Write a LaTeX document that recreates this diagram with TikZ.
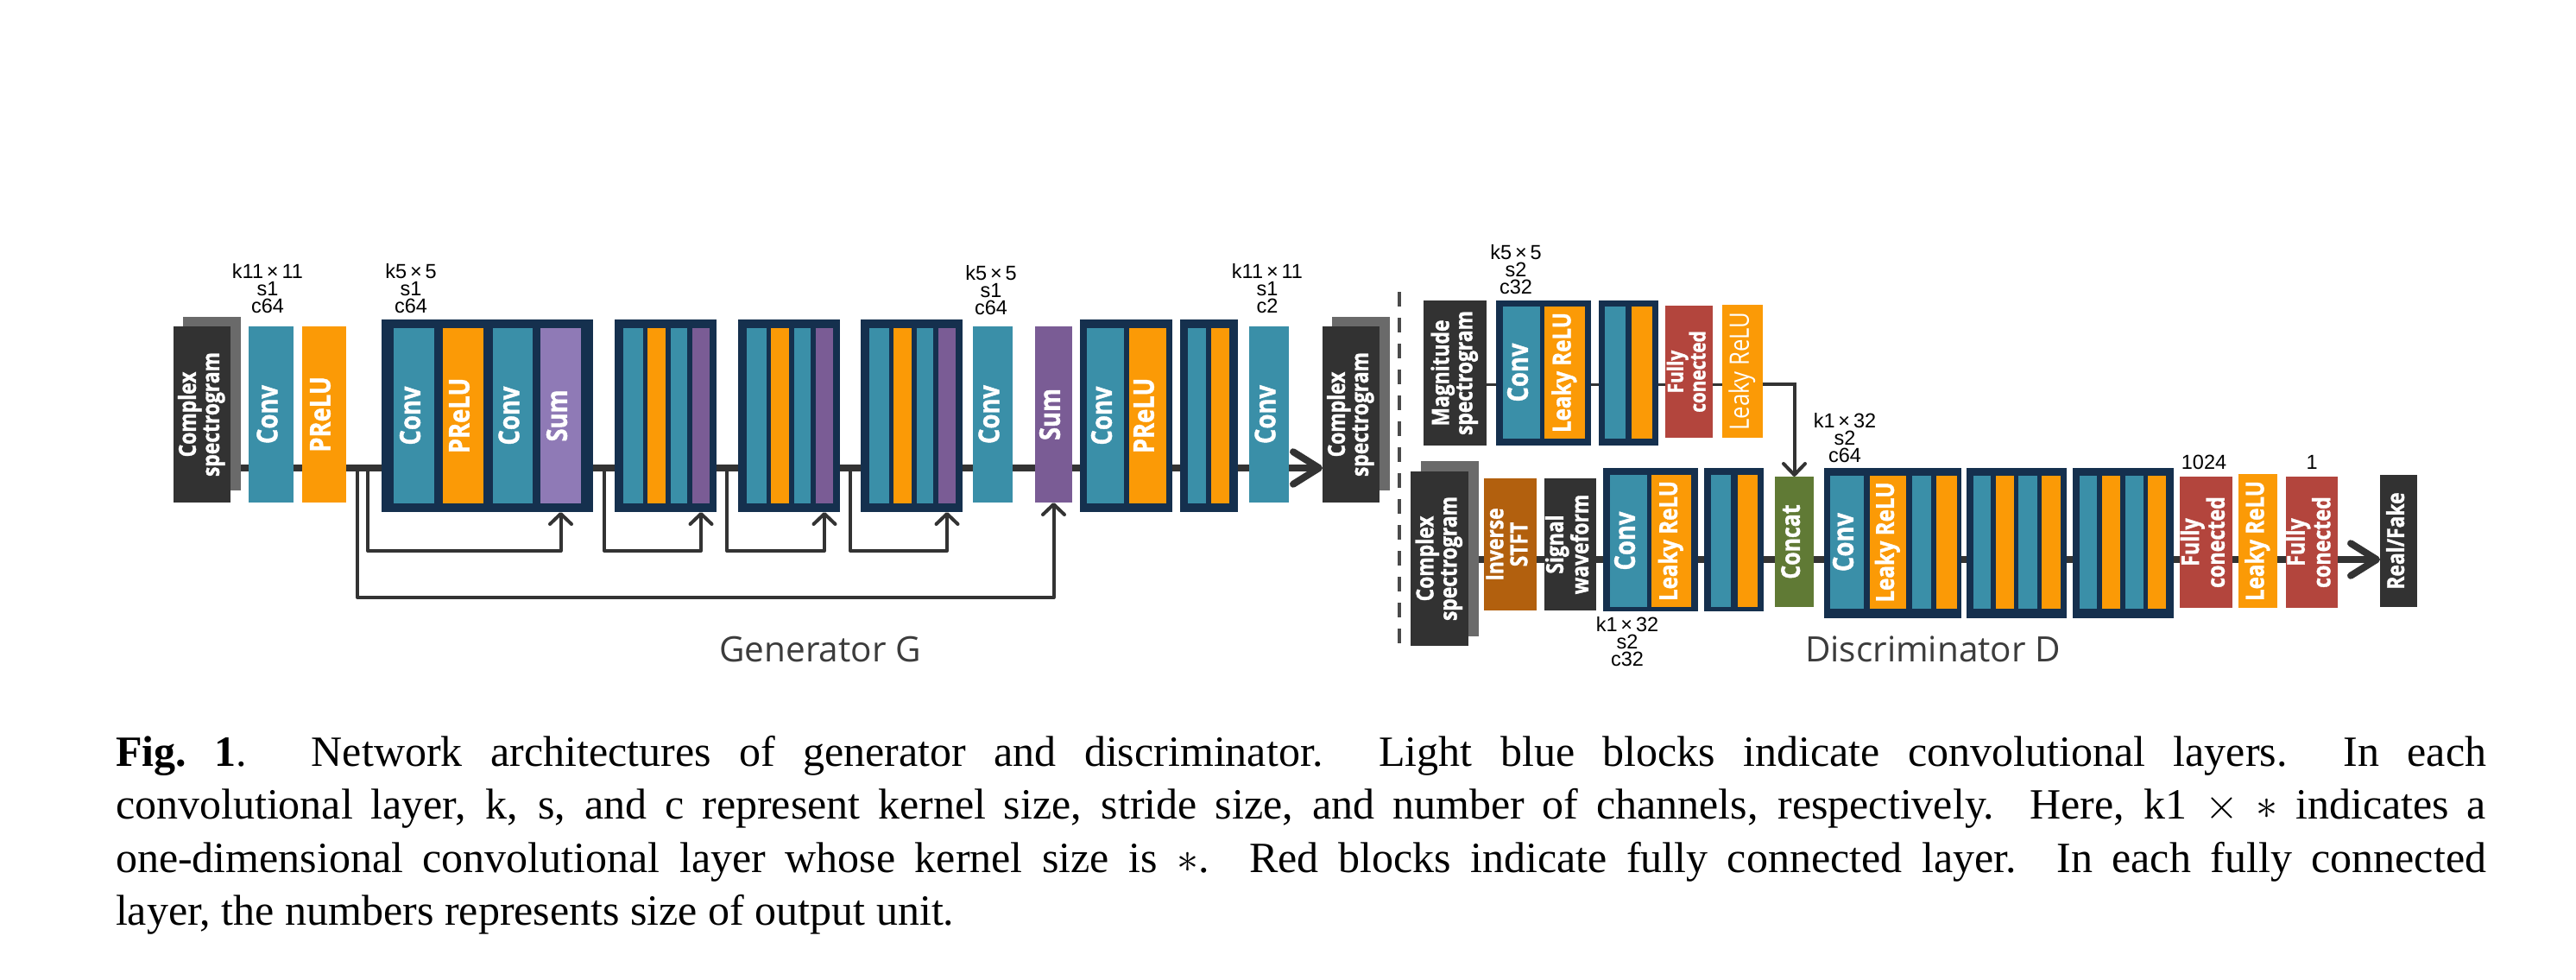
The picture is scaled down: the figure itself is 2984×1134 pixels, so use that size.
\documentclass[tikz,border=0pt]{standalone}
\usepackage{graphicx}
\usepackage{fontspec}
\setmainfont{Liberation Serif}
\newfontfamily\boxfnt[FakeStretch=0.83, BoldFeatures={FakeBold=1.2}]{Open Sans}
\newfontfamily\annfnt{Liberation Sans}
\newfontfamily\ttlfnt{Open Sans}
\usetikzlibrary{arrows.meta,backgrounds}
\definecolor{cNavy}{HTML}{15304E}
\definecolor{cTeal}{HTML}{3A8FA8}
\definecolor{cOrange}{HTML}{FB9A06}
\definecolor{cPurple}{HTML}{7A5C95}
\definecolor{cPurpleL}{HTML}{8F7AB6}
\definecolor{cDark}{HTML}{323232}
\definecolor{cShadow}{HTML}{6A6A6A}
\definecolor{cRed}{HTML}{B3453D}
\definecolor{cBrown}{HTML}{B2600E}
\definecolor{cGreen}{HTML}{607A35}
\definecolor{cLine}{HTML}{333333}
\definecolor{cDash}{HTML}{4A4A4A}
\definecolor{cTitle}{HTML}{3C3C3C}
\newcommand\vt[1]{\rotatebox{90}{\begin{tabular}{@{}c@{}}#1\end{tabular}}}
\newcommand\mkbox[7]{%
  \pgfmathsetmacro\bxw{(#3-#2)*0.2}%
  \pgfmathsetmacro\bxh{(#5-#4)*0.2}%
  \node[#6, minimum width=\bxw pt, minimum height=\bxh pt] (#1) at ({(#2+#3)/2},{(#4+#5)/2}) {#7};}
\tikzset{
  base/.style={rectangle, inner sep=0pt, outer sep=0pt, text=white, font=\boxfnt\bfseries\fontsize{6.6}{6.2}\selectfont},
  blk/.style={base, fill=cNavy},
  tl/.style={base, fill=cTeal},
  og/.style={base, fill=cOrange},
  pu/.style={base, fill=cPurple},
  pl/.style={base, fill=cPurpleL},
  dk/.style={base, fill=cDark},
  sh/.style={base, fill=cShadow},
  rd/.style={base, fill=cRed},
  br/.style={base, fill=cBrown},
  gr/.style={base, fill=cGreen},
  small/.style={font=\boxfnt\bfseries\fontsize{5.5}{5.4}\selectfont},
  fcs/.style={font=\boxfnt\bfseries\fontsize{5.6}{5.6}\selectfont},
  tiny/.style={font=\boxfnt\bfseries\fontsize{5}{4.5}\selectfont},
  big/.style={font=\boxfnt\bfseries\fontsize{6.6}{6.2}\selectfont},
  catf/.style={font=\boxfnt\bfseries\fontsize{6}{6}\selectfont},
  lr/.style={font=\boxfnt\bfseries\fontsize{5.8}{5.5}\selectfont},
  lrreg/.style={font=\boxfnt\fontsize{6.2}{6}\selectfont},
  ann/.style={font=\annfnt\fontsize{4.7}{4}\selectfont, align=center, inner sep=0pt, text=black},
  ttl/.style={font=\ttlfnt\fontsize{8.1}{9}\selectfont, text=cTitle, inner sep=0pt},
  gline/.style={draw=cLine, line width=1.6pt},
  bigtip/.style={-{Straight Barb[length=6pt,width=7.5pt,round]}},
  skip/.style={draw=cLine, line width=0.8pt, line join=round, -{Straight Barb[length=2.4pt,width=5pt,round]}},
  uline/.style={draw=cLine, line width=0.6pt},
  uarrow/.style={draw=cLine, line width=0.8pt, -{Straight Barb[length=2.6pt,width=5pt,round]}},
  sep/.style={draw=cDash, line width=0.8pt, dash pattern=on 3.4pt off 2.6pt}
}
\pgfdeclarelayer{background}
\pgfsetlayers{background,main}
\begin{document}
\begin{tikzpicture}[x=0.2pt,y=-0.2pt]
\useasboundingbox (0,0) rectangle (2984,1134);
% ---------------- Generator ----------------
\mkbox{csinsh}{212}{279}{367}{568}{sh}{}
\mkbox{csin}{201}{267}{378}{582}{dk,small}{\vt{Complex\\spectrogram}}
\mkbox{gc1}{288}{340}{378}{582}{tl}{\vt{Conv}}
\mkbox{gp1}{350}{401}{378}{582}{og}{\vt{PReLU}}
\mkbox{b1}{442}{687}{370}{593}{blk}{}
\mkbox{b1c1}{456}{503}{380}{583}{tl}{\vt{Conv}}
\mkbox{b1p}{513}{560}{380}{583}{og}{\vt{PReLU}}
\mkbox{b1c2}{571}{617}{380}{583}{tl}{\vt{Conv}}
\mkbox{b1s}{626}{673}{380}{583}{pl}{\vt{Sum}}
\mkbox{b2}{712}{830}{370}{593}{blk}{}
\mkbox{b2t1}{722}{745}{380}{583}{tl}{}
\mkbox{b2o}{750}{771}{380}{583}{og}{}
\mkbox{b2t2}{777}{796}{380}{583}{tl}{}
\mkbox{b2s}{802}{822}{380}{583}{pu}{}
\mkbox{b3}{855}{973}{370}{593}{blk}{}
\mkbox{b3t1}{865}{888}{380}{583}{tl}{}
\mkbox{b3o}{893}{914}{380}{583}{og}{}
\mkbox{b3t2}{920}{939}{380}{583}{tl}{}
\mkbox{b3s}{945}{965}{380}{583}{pu}{}
\mkbox{b4}{997}{1115}{370}{593}{blk}{}
\mkbox{b4t1}{1007}{1030}{380}{583}{tl}{}
\mkbox{b4o}{1035}{1056}{380}{583}{og}{}
\mkbox{b4t2}{1062}{1081}{380}{583}{tl}{}
\mkbox{b4s}{1087}{1107}{380}{583}{pu}{}
\mkbox{gc2}{1127}{1173}{378}{582}{tl}{\vt{Conv}}
\mkbox{gsum}{1199}{1242}{378}{582}{pu}{\vt{Sum}}
\mkbox{b5}{1251}{1358}{370}{593}{blk}{}
\mkbox{b5c}{1259}{1302}{380}{583}{tl}{\vt{Conv}}
\mkbox{b5p}{1308}{1351}{380}{583}{og}{\vt{PReLU}}
\mkbox{b6}{1367}{1434}{370}{593}{blk}{}
\mkbox{b6t}{1376}{1397}{380}{583}{tl}{}
\mkbox{b6o}{1403}{1424}{380}{583}{og}{}
\mkbox{gc3}{1447}{1493}{378}{582}{tl}{\vt{Conv}}
\mkbox{csoutsh}{1543}{1610}{367}{568}{sh}{}
\mkbox{csout}{1532}{1598}{378}{582}{dk,small}{\vt{Complex\\spectrogram}}
\node[ann] (lg1) at (310,334) {k11\,×\,11\\s1\\c64};
\node[ann] (lg2) at (476,334) {k5\,×\,5\\s1\\c64};
\node[ann] (lg3) at (1148,336) {k5\,×\,5\\s1\\c64};
\node[ann] (lg4) at (1468,334) {k11\,×\,11\\s1\\c2};
\node[ttl] (gtitle) at (950,752) {Generator G};
\coordinate (gy) at (0,542);
\coordinate (s0) at (414,542);
\coordinate (s1) at (426,542);
\coordinate (s2) at (700,542);
\coordinate (s3) at (842,542);
\coordinate (s4) at (985,542);
% ---------------- Discriminator ----------------
\mkbox{mag}{1649}{1722}{348}{516}{dk,small}{\vt{Magnitude\\spectrogram}}
\mkbox{ua}{1733}{1843}{348}{516}{blk}{}
\mkbox{uac}{1741}{1784}{355}{508}{tl,big}{\vt{Conv}}
\mkbox{uar}{1789}{1836}{355}{508}{og,lr}{\vt{Leaky ReLU}}
\mkbox{ub}{1852}{1921}{348}{516}{blk}{}
\mkbox{ubt}{1859}{1883}{355}{508}{tl}{}
\mkbox{ubo}{1890}{1914}{355}{508}{og}{}
\mkbox{ufc}{1929}{1984}{354}{507}{rd,tiny}{\vt{Fully\\conected}}
\mkbox{ulr}{1995}{2042}{353}{507}{og,lrreg}{\vt{Leaky ReLU}}
\mkbox{csdsh}{1646}{1713}{534}{737}{sh}{}
\mkbox{csd}{1634}{1701}{546}{748}{dk,small}{\vt{Complex\\spectrogram}}
\mkbox{istft}{1719}{1780}{554}{707}{br,small}{\vt{Inverse\\STFT}}
\mkbox{sig}{1789}{1849}{554}{707}{dk,small}{\vt{Signal\\waveform}}
\mkbox{la}{1857}{1967}{542}{708}{blk}{}
\mkbox{lac}{1865}{1908}{550}{703}{tl,big}{\vt{Conv}}
\mkbox{lar}{1913}{1959}{550}{703}{og,lr}{\vt{Leaky ReLU}}
\mkbox{lb}{1974}{2043}{542}{708}{blk}{}
\mkbox{lbt}{1982}{2005}{550}{703}{tl}{}
\mkbox{lbo}{2013}{2036}{550}{703}{og}{}
\mkbox{cat}{2056}{2101}{552}{703}{gr,catf}{\vt{Concat}}
\mkbox{ca}{2113}{2272}{542}{716}{blk}{}
\mkbox{cac}{2120}{2159}{551}{705}{tl,big}{\vt{Conv}}
\mkbox{car}{2166}{2208}{551}{705}{og,lr}{\vt{Leaky ReLU}}
\mkbox{cat2}{2215}{2237}{551}{705}{tl}{}
\mkbox{cao}{2243}{2267}{551}{705}{og}{}
\mkbox{cb}{2278}{2394}{542}{716}{blk}{}
\mkbox{cbt1}{2286}{2306}{551}{705}{tl}{}
\mkbox{cbo1}{2312}{2333}{551}{705}{og}{}
\mkbox{cbt2}{2338}{2360}{551}{705}{tl}{}
\mkbox{cbo2}{2365}{2387}{551}{705}{og}{}
\mkbox{cc}{2401}{2518}{542}{716}{blk}{}
\mkbox{cct1}{2409}{2429}{551}{705}{tl}{}
\mkbox{cco1}{2435}{2456}{551}{705}{og}{}
\mkbox{cct2}{2462}{2483}{551}{705}{tl}{}
\mkbox{cco2}{2488}{2509}{551}{705}{og}{}
\mkbox{fc1}{2525}{2586}{552}{704}{rd,fcs}{\vt{Fully\\conected}}
\mkbox{lr2}{2593}{2638}{549}{704}{og,lr}{\vt{Leaky ReLU}}
\mkbox{fc2}{2648}{2708}{552}{704}{rd,fcs}{\vt{Fully\\conected}}
\mkbox{rf}{2757}{2800}{550}{703}{dk,small}{\vt{Real/Fake}}
\node[ann] (ld1) at (1756,312) {k5\,×\,5\\s2\\c32};
\node[ann] (ld2) at (1885,743) {k1\,×\,32\\s2\\c32};
\node[ann] (ld3) at (2137,507) {k1\,×\,32\\s2\\c64};
\node[ann] (ld4) at (2553,535) {1024};
\node[ann] (ld5) at (2678,535) {1};
\node[ttl] (dtitle) at (2239,752) {Discriminator D};
\coordinate (uy) at (0,445);
\coordinate (dy) at (0,648);
\coordinate (sepa) at (1621,338);
\coordinate (sepb) at (1621,745);
% ---------------- Caption ----------------
\node[inner sep=0pt, anchor=base west] (cap) at (133,887) {\parbox[t]{549.2pt}{\fontsize{10}{12.3}\selectfont
\textbf{Fig.~1}.\hspace{1.5em}Network architectures of generator and discriminator.\ \ Light blue blocks indicate convolutional layers.\ \ In each\linebreak
convolutional layer, k, s, and c represent kernel size, stride size, and number of channels, respectively. Here, k1~$\times$~$\ast$ indicates a\linebreak
one-dimensional convolutional layer whose kernel size is $\ast$. Red blocks indicate fully connected layer. In each fully connected\linebreak
layer, the numbers represents size of output unit.}};
% ---------------- Connectors ----------------
\begin{pgfonlayer}{background}
\draw[gline, bigtip] (csin.east |- gy) -- (csout.west |- gy);
\draw[skip] (s1) -- (426,638) -| (b1s.south |- b1.south);
\draw[skip] (s0) -- (414,692) -| (gsum.south);
\draw[skip] (s2) -- (700,638) -| (b2s.south |- b2.south);
\draw[skip] (s3) -- (842,638) -| (b3s.south |- b3.south);
\draw[skip] (s4) -- (985,638) -| (b4s.south |- b4.south);
\draw[sep] (sepa) -- (sepb);
\draw[uline] (mag.east |- uy) -- (ulr.west |- uy);
\draw[uarrow] (ulr.east |- uy) -| (cat.north);
\draw[gline, bigtip] (csd.east |- dy) -- (rf.west |- dy);
\end{pgfonlayer}
\end{tikzpicture}
\end{document}
